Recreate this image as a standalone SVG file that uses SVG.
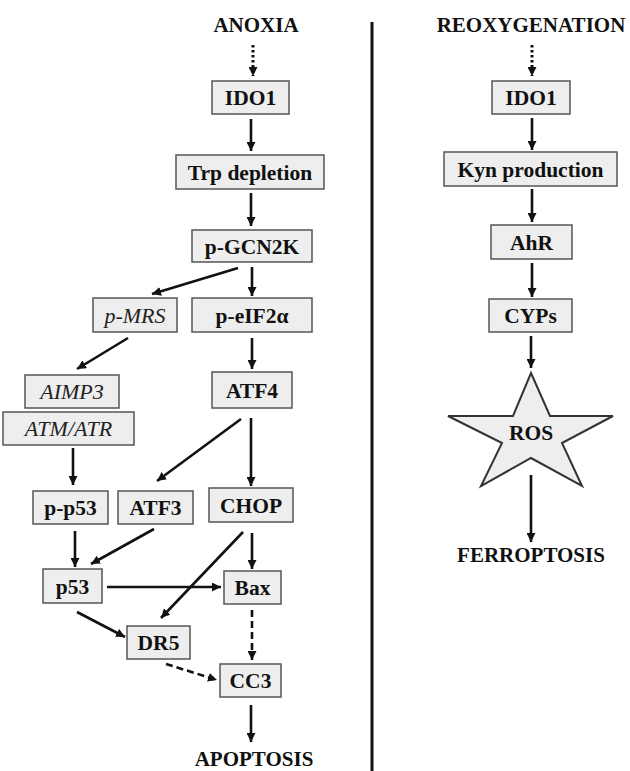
<svg xmlns="http://www.w3.org/2000/svg" width="630" height="771" viewBox="0 0 630 771">
<style>
.box{fill:#eeeeee;stroke:#555555;stroke-width:1.5}
text{font-family:"Liberation Serif","Times New Roman",serif;text-anchor:middle;fill:#111}
.t{font-weight:bold;font-size:21.5px}
.i{font-style:italic;font-size:22px;fill:#222}
.h{font-weight:bold;font-size:21px}
.a{stroke:#111;stroke-width:2.6;fill:none;marker-end:url(#ah)}
.d{stroke-dasharray:7 4}
.o{stroke-dasharray:2.5 2.5;stroke-width:3}
</style>
<defs>
<marker id="ah" viewBox="0 0 10 10" refX="10" refY="5" markerWidth="9" markerHeight="9" markerUnits="userSpaceOnUse" orient="auto">
<path d="M0,0 L10,5 L0,10 z" fill="#111"/>
</marker>
</defs>
<rect width="630" height="771" fill="#ffffff"/>
<line x1="372" y1="22" x2="372" y2="771" stroke="#111" stroke-width="3"/>
<g id="titles">
<text class="h" x="256" y="32">ANOXIA</text>
<text class="h" x="531" y="32">REOXYGENATION</text>
<text class="h" x="254" y="766">APOPTOSIS</text>
<text class="h" x="531" y="562">FERROPTOSIS</text>
</g>
<g id="connectors">
<line class="a o" x1="253" y1="45" x2="253" y2="76"/>
<line class="a" x1="251" y1="119" x2="251" y2="151"/>
<line class="a" x1="251" y1="193" x2="251" y2="226"/>
<line class="a" x1="238" y1="268" x2="152" y2="294"/>
<line class="a" x1="252" y1="267" x2="252" y2="296"/>
<line class="a" x1="128" y1="338" x2="77" y2="369"/>
<line class="a" x1="252" y1="338" x2="252" y2="369"/>
<line class="a" x1="73" y1="448" x2="73" y2="485"/>
<line class="a" x1="241" y1="419" x2="157" y2="481"/>
<line class="a" x1="251" y1="418" x2="251" y2="486"/>
<line class="a" x1="75" y1="531" x2="75" y2="567"/>
<line class="a" x1="154" y1="529" x2="91" y2="564"/>
<line class="a" x1="243" y1="532" x2="161" y2="618"/>
<line class="a" x1="252" y1="533" x2="252" y2="569"/>
<line class="a" x1="107" y1="587" x2="221" y2="587"/>
<line class="a" x1="77" y1="612" x2="125" y2="637"/>
<line class="a d" x1="252" y1="610" x2="252" y2="660"/>
<line class="a d" x1="166" y1="664" x2="217" y2="680"/>
<line class="a" x1="251" y1="705" x2="251" y2="742"/>
<line class="a o" x1="532" y1="45" x2="532" y2="76"/>
<line class="a" x1="532" y1="118" x2="532" y2="150"/>
<line class="a" x1="532" y1="189" x2="532" y2="222"/>
<line class="a" x1="532" y1="263" x2="532" y2="297"/>
<line class="a" x1="531" y1="336" x2="531" y2="368"/>
<line class="a" x1="531" y1="475" x2="531" y2="542"/>
</g>
<g id="ido1-left"><rect class="box" x="212" y="81" width="77" height="33"/><text class="t" x="250.5" y="105">IDO1</text></g>
<g id="trp"><rect class="box" x="176" y="155" width="148" height="34"/><text class="t" x="250" y="179.5">Trp depletion</text></g>
<g id="pgcn2k"><rect class="box" x="192" y="230" width="120" height="32"/><text class="t" x="252" y="253.5">p-GCN2K</text></g>
<g id="pmrs"><rect class="box" x="93" y="298" width="84" height="34"/><text class="i" x="135" y="322.5">p-MRS</text></g>
<g id="peif2a"><rect class="box" x="192" y="298" width="120" height="34"/><text class="t" x="252" y="322.5">p-eIF2α</text></g>
<g id="aimp3"><rect class="box" x="25" y="375" width="94" height="33"/><text class="i" x="72" y="399">AIMP3</text></g>
<g id="atmatr"><rect class="box" x="3" y="412" width="131" height="33"/><text class="i" x="68.5" y="436">ATM/ATR</text></g>
<g id="atf4"><rect class="box" x="212" y="372" width="80" height="36"/><text class="t" x="252" y="397.5">ATF4</text></g>
<g id="pp53"><rect class="box" x="33" y="491" width="75" height="33"/><text class="t" x="70.5" y="515">p-p53</text></g>
<g id="atf3"><rect class="box" x="118" y="491" width="75" height="33"/><text class="t" x="155.5" y="515">ATF3</text></g>
<g id="chop"><rect class="box" x="209" y="488" width="84" height="34"/><text class="t" x="251" y="512.5">CHOP</text></g>
<g id="p53"><rect class="box" x="43" y="569" width="59" height="34"/><text class="t" x="72.5" y="593.5">p53</text></g>
<g id="bax"><rect class="box" x="224" y="571" width="57" height="33"/><text class="t" x="252.5" y="595">Bax</text></g>
<g id="dr5"><rect class="box" x="127" y="626" width="63" height="33"/><text class="t" x="158.5" y="650">DR5</text></g>
<g id="cc3"><rect class="box" x="220" y="664" width="61" height="33"/><text class="t" x="250.5" y="688">CC3</text></g>
<g id="ido1-right"><rect class="box" x="492" y="81" width="78" height="33"/><text class="t" x="531" y="105">IDO1</text></g>
<g id="kyn"><rect class="box" x="444" y="152" width="173" height="34"/><text class="t" x="530.5" y="176.5">Kyn production</text></g>
<g id="ahr"><rect class="box" x="491" y="225" width="81" height="34"/><text class="t" x="531.5" y="249.5">AhR</text></g>
<g id="cyps"><rect class="box" x="489" y="299" width="83" height="33"/><text class="t" x="530.5" y="323">CYPs</text></g>
<g id="ros"><polygon class="box" points="531,373 550,416 613,416 562,443 582,486 531,458 481,486 502,443 448,416 513,416" style="stroke:#333;stroke-width:2"/><text class="t" x="531" y="440">ROS</text></g>
</svg>
